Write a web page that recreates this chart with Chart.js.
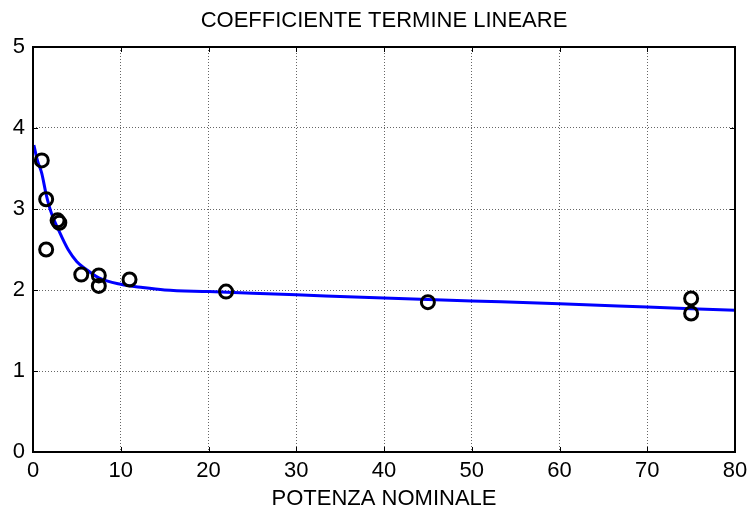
<!DOCTYPE html>
<html>
<head>
<meta charset="utf-8">
<script src="https://cdn.jsdelivr.net/npm/chart.js@4"></script>
<style>
  html, body { margin: 0; padding: 0; background: #fff; }
  #wrap { width: 750px; height: 512px; }
</style>
</head>
<body>
<div id="wrap"><canvas id="c" width="750" height="512"></canvas></div>
<script>
// Measured coefficients (nominal power vs linear-term coefficient)
const potenza = [1, 1.5, 1.5, 2.8, 3, 5.5, 7.5, 7.5, 11, 22, 45, 75, 75];
const coefficiente = [3.60, 3.12, 2.50, 2.86, 2.83, 2.19, 2.18, 2.05, 2.13, 1.98, 1.85, 1.895, 1.71];

// Fitted curve
const fitX = [0.1, 0.5, 1, 1.5, 2, 3, 4, 5, 6, 7.5, 10, 12.5, 15, 20, 25, 30, 40, 50, 60, 70, 80];
const fitY = [3.79, 3.60, 3.44, 3.18, 2.98, 2.72, 2.50, 2.35, 2.26, 2.15, 2.07, 2.03, 2.00, 1.98, 1.96, 1.94, 1.90, 1.865, 1.83, 1.79, 1.75];

const xTicks = [0, 10, 20, 30, 40, 50, 60, 70, 80];
const yTicks = [0, 1, 2, 3, 4, 5];

const titolo = 'COEFFICIENTE TERMINE LINEARE';
const titoloX = 'POTENZA NOMINALE';

const FONT = 'Arial, "Liberation Sans", sans-serif';
const FS = 22;

// Frame around the plot area plus small inward tick marks on every side
const framePlugin = {
  id: 'frame',
  afterDatasetsDraw(chart) {
    const { ctx, chartArea: a, scales } = chart;
    ctx.save();
    ctx.strokeStyle = '#000';
    ctx.lineWidth = 1;
    const t = 5;
    ctx.beginPath();
    scales.x.ticks.forEach(tk => {
      const px = Math.round(scales.x.getPixelForValue(tk.value)) + 0.5;
      ctx.moveTo(px, a.bottom); ctx.lineTo(px, a.bottom - t);
      ctx.moveTo(px, a.top); ctx.lineTo(px, a.top + t);
    });
    scales.y.ticks.forEach(tk => {
      const py = Math.round(scales.y.getPixelForValue(tk.value)) + 0.5;
      ctx.moveTo(a.left, py); ctx.lineTo(a.left + t, py);
      ctx.moveTo(a.right, py); ctx.lineTo(a.right - t, py);
    });
    ctx.stroke();
    ctx.lineWidth = 2;
    ctx.strokeRect(a.left, a.top, a.right - a.left, a.bottom - a.top);
    ctx.restore();
  }
};

new Chart(document.getElementById('c'), {
  type: 'scatter',
  data: {
    datasets: [
      {
        label: 'dati',
        data: potenza.map((x, i) => ({ x, y: coefficiente[i] })),
        showLine: false,
        pointStyle: 'circle',
        pointRadius: 6.5,
        pointBorderWidth: 3,
        pointBorderColor: '#000',
        pointBackgroundColor: 'rgba(0,0,0,0)',
        order: 0
      },
      {
        label: 'fit',
        data: fitX.map((x, i) => ({ x, y: fitY[i] })),
        showLine: true,
        borderColor: '#0000ff',
        borderWidth: 3,
        pointRadius: 0,
        cubicInterpolationMode: 'monotone',
        order: 1
      }
    ]
  },
  options: {
    responsive: false,
    animation: false,
    devicePixelRatio: 1,
    layout: { padding: { left: 0, right: 15, top: 0, bottom: 0 } },
    plugins: {
      legend: { display: false },
      tooltip: { enabled: false },
      title: { display: false }
    },
    scales: {
      x: {
        type: 'linear',
        min: 0, max: 80,
        afterBuildTicks(s) { s.ticks = xTicks.map(v => ({ value: v })); },
        afterFit(s) { s.height = 60; s.paddingLeft = 0; s.paddingRight = 0; },
        grid: { color: 'rgba(0,0,0,0.6)', lineWidth: 1, drawTicks: false },
        border: { display: false, dash: [1, 2] },
        ticks: { color: '#000', font: { family: FONT, size: FS }, padding: 6, maxRotation: 0 },
        title: { display: true, text: titoloX, color: '#000', font: { family: FONT, size: FS }, padding: { top: 0, bottom: 0 } }
      },
      // top axis carries the chart title, centred over the plot area
      xTop: {
        type: 'linear',
        position: 'top',
        min: 0, max: 80,
        afterFit(s) { s.height = 47; s.paddingLeft = 0; s.paddingRight = 0; },
        grid: { display: false },
        border: { display: false },
        ticks: { display: false },
        title: { display: true, text: titolo, color: '#000', font: { family: FONT, size: FS, lineHeight: 1.2 }, padding: { top: 7.5, bottom: 0 } }
      },
      y: {
        type: 'linear',
        min: 0, max: 5,
        afterBuildTicks(s) { s.ticks = yTicks.map(v => ({ value: v })); },
        afterFit(s) { s.width = 33; },
        grid: { color: 'rgba(0,0,0,0.6)', lineWidth: 1, drawTicks: false },
        border: { display: false, dash: [1, 2] },
        ticks: { color: '#000', font: { family: FONT, size: FS }, padding: 8 }
      }
    }
  },
  plugins: [framePlugin]
});
</script>
</body>
</html>
